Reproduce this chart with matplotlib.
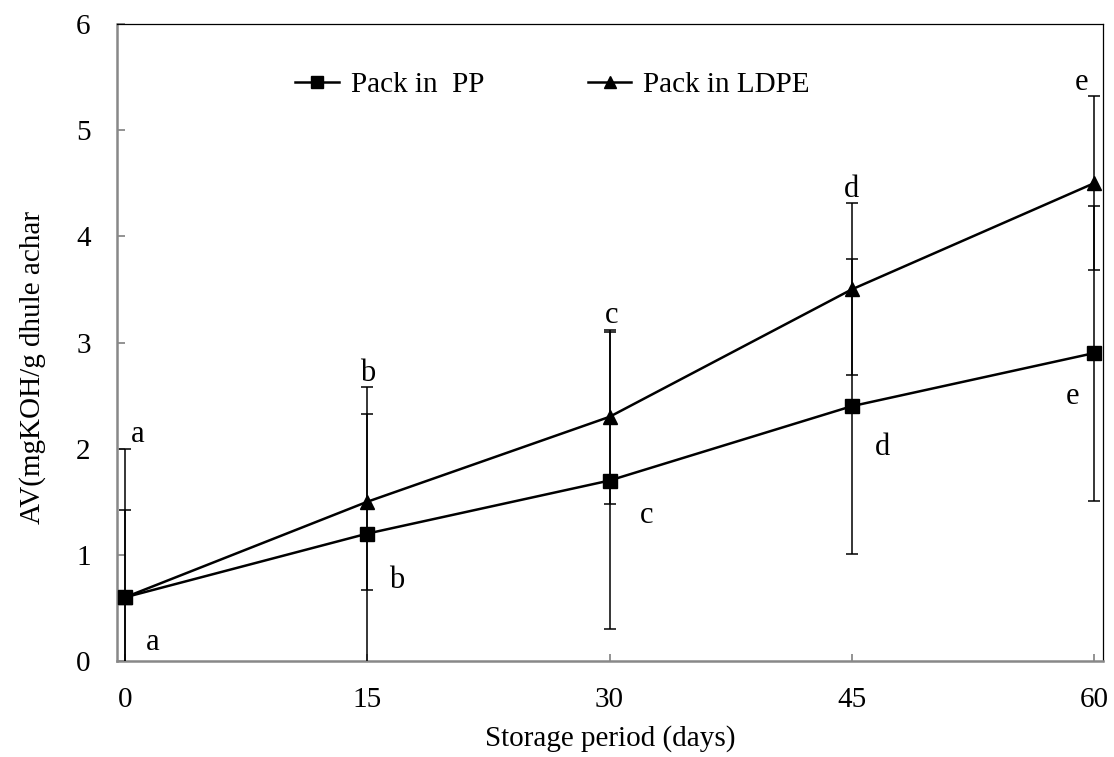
import matplotlib
matplotlib.use('Agg')
import matplotlib.pyplot as plt
import numpy as np

plt.rcParams['font.family'] = ['Liberation Serif', 'DejaVu Serif']

# data
days = [0, 15, 30, 45, 60]
av_pp = [0.6, 1.2, 1.7, 2.4, 2.9]
av_ldpe = [0.6, 1.5, 2.3, 3.5, 4.5]
err_pp = [0.82, 1.38, 1.40, 1.39, 1.39]
err_ldpe = [1.40, 0.83, 0.82, 0.81, 0.82]
letters = ['a', 'b', 'c', 'd', 'e']

fig = plt.figure(figsize=(11.14, 7.57), dpi=100)
ax = fig.add_axes([0.105, 0.1268, 0.885, 0.8415])

kw = dict(color='black', lw=1.8, ms=10, ecolor='black', elinewidth=1.1,
          capsize=4.5, capthick=1.1, zorder=3)
c_pp = ax.errorbar(days, av_pp, yerr=err_pp, marker='s', **kw)
c_ldpe = ax.errorbar(days, av_ldpe, yerr=err_ldpe, marker='^', **kw)

# significance letters: PP below-right of its point, LDPE above the error bars
pp_off = [(1.73, -0.43), (1.8, -0.44), (2.3, -0.33), (1.9, -0.39), (-1.3, -0.41)]
ldpe_dx = [0.8, 0.05, 0.15, 0.0, -0.8]
for i, d in enumerate(days):
    ax.text(d + pp_off[i][0], av_pp[i] + pp_off[i][1], letters[i], fontsize=22,
            ha='center', va='center')
    top = max(av_pp[i] + err_pp[i], av_ldpe[i] + err_ldpe[i])
    ax.text(d + ldpe_dx[i], top + 0.13, letters[i], fontsize=22,
            ha='center', va='center')

ax.set_xlim(-0.5, 60.55)
ax.set_ylim(0, 6)
ax.set_xticks(days)
ax.set_yticks(range(0, 7))
ax.tick_params(direction='in', width=1.2, color='#808080', labelsize=21)
ax.tick_params(axis='x', length=5, pad=19)
ax.tick_params(axis='y', length=6, pad=19)
for side in ['left', 'bottom']:
    ax.spines[side].set_color('#888888')
    ax.spines[side].set_linewidth(1.8)
for side in ['top', 'right']:
    ax.spines[side].set_color('black')
    ax.spines[side].set_linewidth(0.9)

ax.set_xlabel('Storage period (days)', fontsize=21)
ax.xaxis.set_label_coords(0.5, -0.1)
ax.set_ylabel('AV(mgKOH/g dhule achar', fontsize=21)
ax.yaxis.set_label_coords(-0.072, 0.46)

ax.legend([c_pp[0], c_ldpe[0]], ['Pack in  PP', 'Pack in LDPE'],
          loc='center left', bbox_to_anchor=(0.181, 0.904), ncol=2, frameon=False,
          fontsize=21, handlelength=1.5, handletextpad=0.4, columnspacing=3.55,
          borderpad=0, borderaxespad=0, markerscale=0.8)

fig.savefig('out.png', dpi=100)
